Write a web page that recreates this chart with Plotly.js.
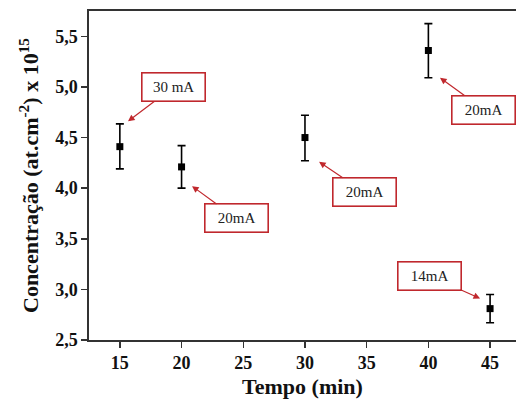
<!DOCTYPE html>
<html><head><meta charset="utf-8">
<script src="https://cdn.plot.ly/plotly-3.0.1.min.js"></script>
<style>html,body{margin:0;padding:0;background:#fff;}#chart{width:516px;height:399px;}</style>
</head><body><div id="chart"></div>
<script>
const tempo = [15, 20, 30, 40, 45];
const concentracao = [4.41, 4.21, 4.50, 5.36, 2.81];
const erroSup = [0.225, 0.21, 0.22, 0.265, 0.14];
const erroInf = [0.22, 0.21, 0.23, 0.27, 0.14];
const correntes = ['30 mA', '20mA', '20mA', '20mA', '14mA'];

const SERIF = '"Liberation Serif", "Times New Roman", Times, serif';

const trace = {
  x: tempo, y: concentracao, type: 'scatter', mode: 'markers',
  marker: {symbol: 'square', size: 7, color: '#000'},
  error_y: {type: 'data', symmetric: false, array: erroSup, arrayminus: erroInf,
            color: '#000', thickness: 1.6, width: 4},
  showlegend: false, hoverinfo: 'skip'
};

// arrow tip offsets (data units) and label offsets (pixels)
const tipDx = [0.66, 0.85, 1.14, 0.94, -0.81];
const tipDy = [0.25, -0.19, -0.24, -0.27, 0.10];
const boxAx = [45, 44, 45, 44, -51];
const boxAy = [-34, 32, 30, 32, -23];

const annotations = tempo.map((t, i) => ({
  x: t + tipDx[i], y: concentracao[i] + tipDy[i], xref: 'x', yref: 'y',
  text: correntes[i], showarrow: true, arrowhead: 2, arrowsize: 1.1, arrowwidth: 1.2,
  arrowcolor: '#c0282d', ax: boxAx[i], ay: boxAy[i],
  bordercolor: '#c0282d', borderwidth: 1.6, borderpad: 2, bgcolor: '#fff',
  width: 58, height: 23,
  font: {family: SERIF, size: 15, color: '#222'}
}));

const layout = {
  width: 516, height: 399,
  margin: {l: 89, r: 0, t: 11, b: 59},
  paper_bgcolor: '#fff', plot_bgcolor: '#fff',
  separators: ',.',
  font: {family: SERIF, color: '#111'},
  xaxis: {
    range: [12.5, 47.1], tickvals: [15, 20, 25, 30, 35, 40, 45],
    showgrid: false, zeroline: false, showline: true, linecolor: '#333', linewidth: 1.6,
    mirror: true, ticks: 'outside', ticklen: 6, tickwidth: 1.5, tickcolor: '#333',
    tickfont: {size: 18, family: SERIF, weight: 'bold', color: '#111'},
    title: {text: '<b>Tempo (min)</b>', font: {size: 22, family: SERIF, color: '#111'}, standoff: 8}
  },
  yaxis: {
    range: [2.5, 5.75], tickvals: [2.5, 3.0, 3.5, 4.0, 4.5, 5.0, 5.5], tickformat: '.1f',
    showgrid: false, zeroline: false, showline: true, linecolor: '#333', linewidth: 1.6,
    mirror: false, ticks: 'outside', ticklen: 6, tickwidth: 1.5, tickcolor: '#333',
    tickfont: {size: 18, family: SERIF, weight: 'bold', color: '#111'},
    title: {text: '<b>Concentração (at.cm<sup>-2</sup>) x 10<sup>15</sup></b>', font: {size: 22, family: SERIF, color: '#111'}, standoff: 10}
  },
  annotations: annotations
};

Plotly.newPlot('chart', [trace], layout, {displayModeBar: false, staticPlot: true});
</script>
</body></html>
